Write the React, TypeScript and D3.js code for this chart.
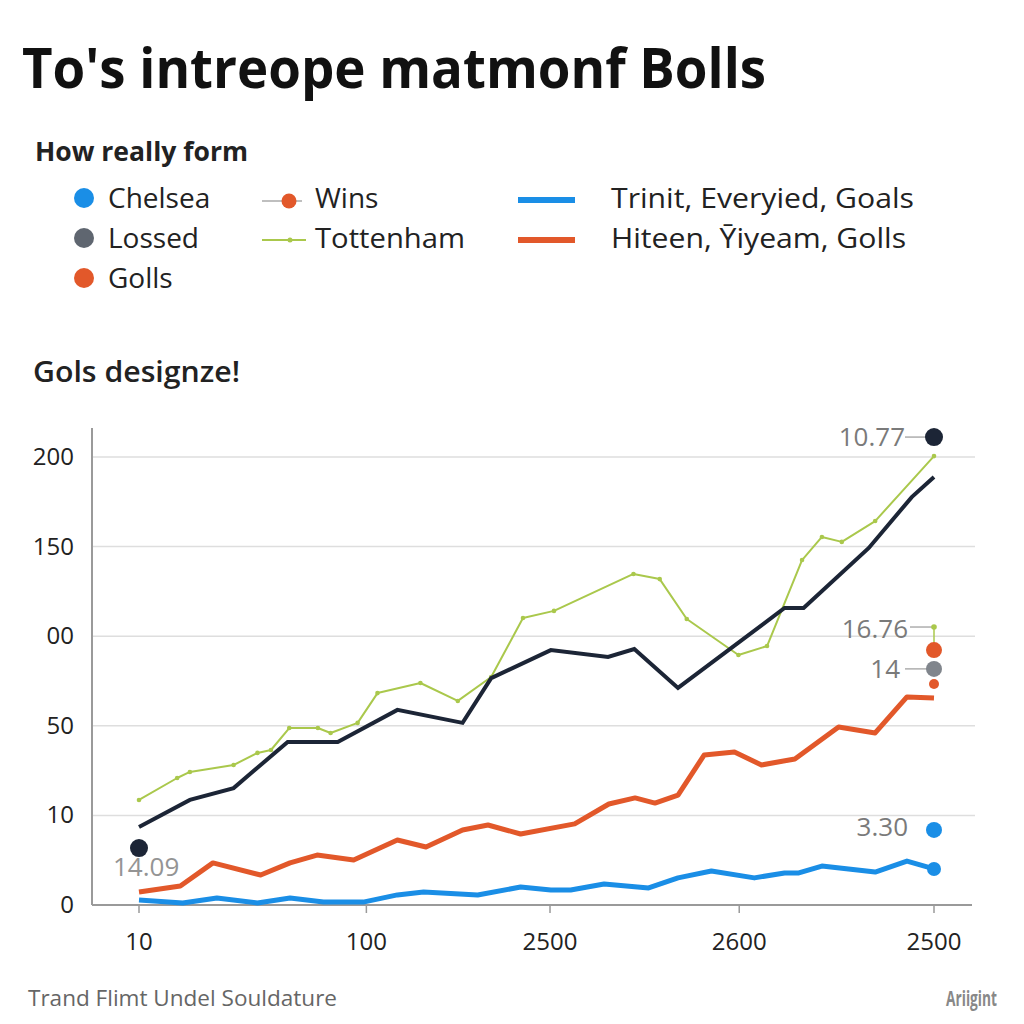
import React from "react";
import * as d3 from "d3";

const navyX = [0, 6.4, 11.9, 18.7, 25.0, 32.5, 40.7, 44.3, 51.8, 59.0, 62.3, 67.8, 81.2, 83.6, 91.8, 97.2, 100];
const navyY = [34.8, 46.9, 52.2, 72.8, 72.8, 87.1, 81.3, 101.3, 113.8, 110.7, 114.3, 96.9, 132.6, 132.6, 159.4, 182.1, 191.1];

const greenX = [0, 4.8, 6.4, 11.9, 14.9, 16.6, 18.9, 22.5, 24.1, 27.5, 30.0, 35.4, 40.1, 44.3, 48.3, 52.2, 62.2, 65.5, 68.9, 75.4, 79.0, 83.4, 85.9, 88.4, 92.6, 100];
const greenY = [46.9, 56.7, 59.4, 62.5, 67.9, 69.2, 79.0, 79.0, 76.8, 81.3, 94.6, 99.1, 91.1, 101.8, 128.1, 131.3, 147.8, 145.5, 127.7, 111.6, 115.6, 154.0, 164.3, 162.1, 171.4, 200.4];

const orangeX = [0, 5.2, 9.3, 15.3, 19.0, 22.4, 27.0, 32.5, 36.1, 40.7, 43.9, 48.0, 54.8, 59.1, 62.4, 64.9, 67.8, 71.1, 74.9, 78.3, 82.5, 88.0, 92.6, 96.6, 100];
const orangeY = [5.8, 8.5, 18.8, 13.4, 18.8, 22.3, 20.1, 29.0, 25.9, 33.5, 35.7, 31.7, 36.2, 45.1, 47.8, 45.5, 49.1, 67.0, 68.3, 62.5, 65.2, 79.5, 76.8, 92.9, 92.4];

const blueX = [0, 5.5, 9.8, 14.9, 19.0, 23.2, 28.2, 32.5, 35.8, 42.6, 48.0, 51.8, 54.3, 58.5, 64.1, 67.8, 72.0, 77.4, 81.2, 83.0, 85.9, 92.6, 96.6, 100];
const blueY = [2.2, 0.9, 3.1, 0.9, 3.1, 1.3, 1.3, 4.5, 5.8, 4.5, 8.0, 6.7, 6.7, 9.4, 7.6, 12.1, 15.2, 12.1, 14.3, 14.3, 17.4, 14.7, 19.6, 16.1];

const yTickValues = [0, 40, 80, 120, 160, 200];
const yTickLabels = ["0", "10", "50", "00", "150", "200"];
const xTickValues = [0, 28.6, 51.7, 75.5, 100];
const xTickLabels = ["10", "100", "2500", "2600", "2500"];

const legendCol1 = ["Chelsea", "Lossed", "Golls"];
const legendCol2 = ["Wins", "Tottenham"];
const legendCol3 = ["Trinit, Everyied, Goals", "Hiteen, Ȳiyeam, Golls"];

const title = "To's intreope matmonf Bolls";
const subtitle = "How really form";
const sectionTitle = "Gols designze!";
const footerLeft = "Trand Flimt Undel Souldature";
const footerRight = "Ariigint";

const C = {
  navy: "#1c2536",
  green: "#aac84c",
  orange: "#e2582a",
  blue: "#1a8ee6",
  grayDot: "#5f6670",
  grayDot2: "#80858c",
  label: "#7a7a7a",
  text: "#222",
};

const FONT = "'Open Sans', 'Noto Sans', sans-serif";

export default function App() {
  const x = d3.scaleLinear().domain([0, 100]).range([139, 934]);
  const y = d3.scaleLinear().domain([0, 200]).range([905, 457]);
  const line = d3
    .line<[number, number]>()
    .x((d) => x(d[0]))
    .y((d) => y(d[1]));
  const zip = (a: number[], b: number[]) => a.map((v, i) => [v, b[i]] as [number, number]);

  const navy = zip(navyX, navyY);
  const green = zip(greenX, greenY);
  const orange = zip(orangeX, orangeY);
  const blue = zip(blueX, blueY);

  return (
    <svg
      width={1024}
      height={1024}
      style={{ position: "absolute", left: 0, top: 0, background: "#fff" }}
      fontFamily={FONT}
    >
      <rect width={1024} height={1024} fill="#fff" />
      {/* Title */}
      <text x={22} y={88} fontSize={56} fontWeight={700} fill="#111" textLength={744} lengthAdjust="spacingAndGlyphs">
        {title}
      </text>
      <text x={35} y={161} fontSize={27} fontWeight={700} fill={C.text} textLength={213} lengthAdjust="spacingAndGlyphs">
        {subtitle}
      </text>

      {/* Legend col 1 */}
      {legendCol1.map((t, i) => (
        <g key={t}>
          <circle cx={84} cy={198 + i * 40} r={10} fill={[C.blue, C.grayDot, C.orange][i]} />
          <text x={108} y={208 + i * 40} fontSize={28} fill={C.text}>
            {t}
          </text>
        </g>
      ))}
      {/* Legend col 2 */}
      <line x1={262} x2={302} y1={201} y2={201} stroke="#aaa" strokeWidth={1.5} />
      <circle cx={289} cy={201} r={7.5} fill={C.orange} />
      <text x={315} y={208} fontSize={28} fill={C.text}>
        {legendCol2[0]}
      </text>
      <line x1={262} x2={306} y1={240} y2={240} stroke={C.green} strokeWidth={2} />
      <circle cx={290} cy={240} r={2.5} fill={C.green} />
      <text x={315} y={248} fontSize={28} fill={C.text} textLength={150} lengthAdjust="spacingAndGlyphs">
        {legendCol2[1]}
      </text>
      {/* Legend col 3 */}
      <line x1={518} x2={575} y1={200} y2={200} stroke={C.blue} strokeWidth={6} />
      <text x={611} y={208} fontSize={28} fill={C.text} textLength={303} lengthAdjust="spacingAndGlyphs">
        {legendCol3[0]}
      </text>
      <line x1={518} x2={575} y1={240} y2={240} stroke={C.orange} strokeWidth={6} />
      <text x={611} y={248} fontSize={28} fill={C.text} textLength={295} lengthAdjust="spacingAndGlyphs">
        {legendCol3[1]}
      </text>

      <text x={33} y={382} fontSize={28} fontWeight={600} fill={C.text} textLength={207} lengthAdjust="spacingAndGlyphs">
        {sectionTitle}
      </text>

      {/* Grid */}
      {yTickValues.map((v, i) => (
        <g key={v}>
          {v > 0 && <line x1={92} x2={975} y1={y(v)} y2={y(v)} stroke="#dedede" strokeWidth={1.5} />}
          <text x={74} y={y(v) + 8} fontSize={24} textAnchor="end" fill={C.text}>
            {yTickLabels[i]}
          </text>
        </g>
      ))}
      {/* Axes */}
      <line x1={92} x2={92} y1={428} y2={905} stroke="#9a9a9a" strokeWidth={2} />
      <line x1={92} x2={972} y1={905} y2={905} stroke="#9a9a9a" strokeWidth={2} />
      {xTickValues.map((v, i) => (
        <g key={i}>
          <line x1={x(v)} x2={x(v)} y1={905} y2={913} stroke="#9a9a9a" strokeWidth={1.5} />
          <text x={x(v)} y={950} fontSize={24} textAnchor="middle" fill={C.text}>
            {xTickLabels[i]}
          </text>
        </g>
      ))}

      {/* Series */}
      <path d={line(blue) || ""} fill="none" stroke={C.blue} strokeWidth={5} strokeLinejoin="round" />
      <path d={line(orange) || ""} fill="none" stroke={C.orange} strokeWidth={5} strokeLinejoin="round" />
      <path d={line(green) || ""} fill="none" stroke={C.green} strokeWidth={2} strokeLinejoin="round" />
      {green.map((d, i) => (
        <circle key={i} cx={x(d[0])} cy={y(d[1])} r={2.3} fill={C.green} />
      ))}
      <path d={line(navy) || ""} fill="none" stroke={C.navy} strokeWidth={4} strokeLinejoin="miter" />

      {/* End annotations */}
      <circle cx={x(100)} cy={y(16.1)} r={7} fill={C.blue} />
      <circle cx={x(100)} cy={y(33.5)} r={8} fill={C.blue} />
      <text x={908} y={836} fontSize={26} textAnchor="end" fill={C.label}>
        3.30
      </text>

      <line x1={905} x2={928} y1={y(208.9)} y2={y(208.9)} stroke="#999" strokeWidth={1.2} />
      <circle cx={x(100)} cy={y(208.9)} r={9} fill={C.navy} />
      <text x={905} y={446} fontSize={26} textAnchor="end" fill={C.label}>
        10.77
      </text>

      <line x1={910} x2={x(100)} y1={y(124.1)} y2={y(124.1)} stroke="#999" strokeWidth={1.2} />
      <line x1={x(100)} x2={x(100)} y1={y(124.1)} y2={y(113.8)} stroke={C.green} strokeWidth={1.5} />
      <circle cx={x(100)} cy={y(124.1)} r={2.8} fill={C.green} />
      <circle cx={x(100)} cy={y(113.8)} r={8} fill={C.orange} />
      <text x={908} y={638} fontSize={26} textAnchor="end" fill={C.label}>
        16.76
      </text>
      <line x1={905} x2={x(100)} y1={y(105.4)} y2={y(105.4)} stroke="#999" strokeWidth={1.2} />
      <circle cx={x(100)} cy={y(105.4)} r={8} fill={C.grayDot2} />
      <text x={900} y={678} fontSize={26} textAnchor="end" fill={C.label}>
        14
      </text>
      <circle cx={x(100)} cy={y(98.7)} r={5} fill={C.orange} />

      {/* Start annotation */}
      <circle cx={x(0)} cy={y(25.4)} r={9} fill={C.navy} />
      <text x={113} y={876} fontSize={26} fill={C.label} opacity={0.8}>
        14.09
      </text>

      {/* Footer */}
      <text x={28} y={1006} fontSize={21} fill="#666" textLength={309} lengthAdjust="spacingAndGlyphs">
        {footerLeft}
      </text>
      <text x={997} y={1006} fontSize={21} fontWeight={700} fill="#888" textAnchor="end" textLength={51} lengthAdjust="spacingAndGlyphs">
        {footerRight}
      </text>
    </svg>
  );
}
